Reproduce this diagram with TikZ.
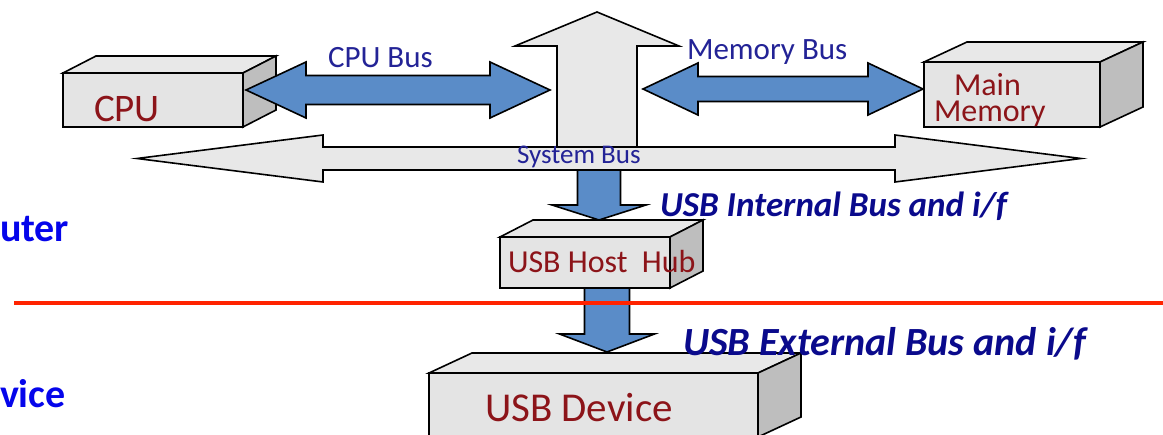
\documentclass[tikz,border=0pt]{standalone}
\usepackage{fontspec}
\setmainfont{Carlito}
\usetikzlibrary{calc}
\definecolor{facegray}{RGB}{228,228,228}
\definecolor{topgray}{RGB}{232,232,232}
\definecolor{sidegray}{RGB}{190,190,190}
\definecolor{arrowgray}{RGB}{232,232,232}
\definecolor{busblue}{RGB}{90,140,200}
\definecolor{boxred}{RGB}{140,20,25}
\definecolor{labelblue}{RGB}{35,35,150}
\definecolor{ifblue}{RGB}{10,10,140}
\definecolor{sideblue}{RGB}{5,5,235}
\definecolor{divred}{RGB}{255,35,0}
\tikzset{
  outline/.style={draw=black,line width=1.6pt,line join=miter},
  frontface/.style={outline,fill=facegray,rectangle,inner sep=0pt,outer sep=0pt},
  topface/.style={outline,fill=topgray},
  sideface/.style={outline,fill=sidegray},
  grayarrow/.style={outline,fill=arrowgray},
  bluearrow/.style={outline,fill=busblue},
  txt/.style={inner sep=0pt,outer sep=0pt,anchor=base west},
  boxtext/.style={txt,text=boxred},
  buslabel/.style={txt,text=labelblue},
  iflabel/.style={txt,text=ifblue,font=\bfseries\itshape\fontsize{38}{40}\selectfont},
  sidelabel/.style={txt,text=sideblue,font=\bfseries\fontsize{40}{42}\selectfont},
  divider/.style={draw=divred,line width=3.5pt}
}
% horizontal double block arrow: style, left tip, right tip, shaft half, head half, head length
\newcommand\hdarrow[6]{%
  \draw[#1] let \p1=(#2), \p2=(#3) in
    (\p1) -- (\x1+#6pt,\y1+#5pt) -- (\x1+#6pt,\y1+#4pt) -- (\x2-#6pt,\y2+#4pt)
    -- (\x2-#6pt,\y2+#5pt) -- (\p2) -- (\x2-#6pt,\y2-#5pt) -- (\x2-#6pt,\y2-#4pt)
    -- (\x1+#6pt,\y1-#4pt) -- (\x1+#6pt,\y1-#5pt) -- cycle;}
% vertical down block arrow: style, top (shaft start), tip, shaft half, head half, head length
\newcommand\vdarrow[6]{%
  \draw[#1] let \p1=(#2), \p2=(#3) in
    (\x2-#4pt,\y1) -- (\x2+#4pt,\y1) -- (\x2+#4pt,\y2+#6pt) -- (\x2+#5pt,\y2+#6pt)
    -- (\p2) -- (\x2-#5pt,\y2+#6pt) -- (\x2-#4pt,\y2+#6pt) -- cycle;}
% vertical up block arrow: style, bottom (shaft start), tip, shaft half, head half, head length
\newcommand\vuarrow[6]{%
  \draw[#1] let \p1=(#2), \p2=(#3) in
    (\x2-#4pt,\y1) -- (\x2+#4pt,\y1) -- (\x2+#4pt,\y2-#6pt) -- (\x2+#5pt,\y2-#6pt)
    -- (\p2) -- (\x2-#5pt,\y2-#6pt) -- (\x2-#4pt,\y2-#6pt) -- cycle;}
% 3D faces of a box: node name, depth shift
\newcommand\boxfaces[2]{%
  \draw[topface] (#1.north west) -- ([shift={#2}]#1.north west) -- ([shift={#2}]#1.north east) -- (#1.north east) -- cycle;
  \draw[sideface] (#1.north east) -- ([shift={#2}]#1.north east) -- ([shift={#2}]#1.south east) -- (#1.south east) -- cycle;}
\begin{document}
\begin{tikzpicture}[x=1pt,y=-1pt]
\useasboundingbox (0,0) rectangle (1163,435);
\clip (0,0) rectangle (1163,435);

% coordinates of arrow ends
\coordinate (upbase) at (597,147);
\coordinate (uptip) at (597,12);
\coordinate (sysL) at (137,158.5);
\coordinate (sysR) at (1081,158.5);
\coordinate (cpubusL) at (246,90);
\coordinate (cpubusR) at (550,90);
\coordinate (membusL) at (643,89);
\coordinate (membusR) at (923,89);
\coordinate (d1top) at (599,170);
\coordinate (d1tip) at (599,220);
\coordinate (d2top) at (607,288);
\coordinate (d2tip) at (607,352);

% memory (up) arrow and system bus
\vuarrow{grayarrow}{upbase}{uptip}{40}{82}{34}
\hdarrow{grayarrow}{sysL}{sysR}{11.5}{23.5}{186}

% CPU box
\node[frontface,minimum width=180pt,minimum height=54pt] (cpu) at (153,100) {};
\boxfaces{cpu}{(33,-17)}
% Main memory box
\node[frontface,minimum width=176pt,minimum height=65pt] (mem) at (1012,94.5) {};
\boxfaces{mem}{(43,-20)}

% CPU bus and memory bus
\hdarrow{bluearrow}{cpubusL}{cpubusR}{14.5}{28}{60}
\hdarrow{bluearrow}{membusL}{membusR}{12.5}{26}{55}

% USB internal bus arrow and host hub
\vdarrow{bluearrow}{d1top}{d1tip}{21.5}{47}{15}
\node[frontface,minimum width=170pt,minimum height=51pt] (hub) at (585,262.5) {};
\boxfaces{hub}{(33,-17)}

% USB external bus arrow and device
\vdarrow{bluearrow}{d2top}{d2tip}{22.5}{47.5}{18}
\node[frontface,minimum width=329pt,minimum height=64pt] (dev) at (593.5,405) {};
\boxfaces{dev}{(43,-20)}

% divider
\coordinate (divL) at (14,303);
\coordinate (divR) at (1163,303);
\draw[divider] (divL) -- (divR);

% texts
\node[boxtext,font=\fontsize{39}{40}\selectfont] (tcpu) at (94,122) {CPU};
\node[boxtext,font=\fontsize{32}{26}\selectfont] (tmainmem) at (934,122)
  {\vbox{\baselineskip=26pt\lineskiplimit=-100pt\lineskip=0pt
   \hbox{\hspace{20pt}Main}\hbox{Memory}}};
\node[boxtext,font=\fontsize{32}{34}\selectfont] (thub) at (508,273) {USB Host\ \ Hub};
\node[boxtext,font=\fontsize{41}{42}\selectfont] (tdev) at (485,422) {USB Device};
\node[buslabel,font=\fontsize{31}{33}\selectfont] (tcpubus) at (328,68) {CPU Bus};
\node[buslabel,font=\fontsize{31}{33}\selectfont] (tmembus) at (687,60) {Memory Bus};
\node[buslabel,font=\fontsize{27}{29}\selectfont] (tsysbus) at (517,164) {System Bus};
\node[iflabel,font=\bfseries\itshape\fontsize{35}{37}\selectfont] (tint) at (660,217) {USB Internal Bus and i/f};
\node[iflabel,font=\bfseries\itshape\fontsize{40}{42}\selectfont] (text) at (683,356) {USB External Bus and i/f};
\node[sidelabel] (tcomp) at (0,242) {uter};
\node[sidelabel] (tdevice) at (0,408) {vice};
\end{tikzpicture}
\end{document}
